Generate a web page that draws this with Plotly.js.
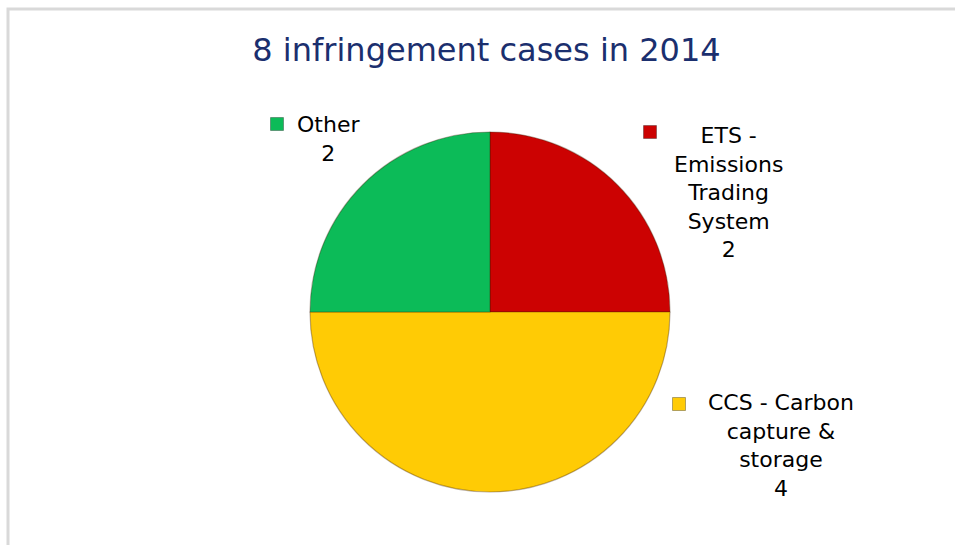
<!DOCTYPE html>
<html>
<head>
<meta charset="utf-8">
<script src="https://cdn.plot.ly/plotly-3.0.1.min.js"></script>
<style>
html,body{margin:0;padding:0;background:#fff;}
#chart{width:955px;height:545px;}
</style>
</head>
<body>
<div id="chart"></div>
<script>
// ---- data ----
const titleText = '8 infringement cases in 2014';
const categories = ['ETS - Emissions Trading System', 'CCS - Carbon capture & storage', 'Other'];
const labelLines = [['ETS -', 'Emissions', 'Trading', 'System'], ['CCS - Carbon', 'capture &', 'storage'], ['Other']];
const values = [2, 4, 2];
const colors = ['#cc0202', '#ffcb05', '#0cbb58'];

// ---- layout helpers (pixel positions -> paper coords) ----
const W = 955, H = 545;
const px = x => x / W;
const py = y => 1 - y / H;
const pieCenter = [490, 312], pieR = 180;
const labelPos = [[728, 192], [781, 445], [328, 139]];
const keyPos = [[650, 132], [679, 404], [277, 124]];
const keySize = 13;

const annotations = categories.map((c, i) => ({
  xref: 'paper', yref: 'paper',
  x: px(labelPos[i][0]), y: py(labelPos[i][1]),
  xanchor: 'center', yanchor: 'middle',
  text: labelLines[i].join('<br>') + '<br>' + values[i],
  showarrow: false, align: 'center',
  font: {family: 'DejaVu Sans', size: 22, color: '#000'}
}));

const shapes = [{
  type: 'rect', xref: 'paper', yref: 'paper',
  x0: px(8), x1: 1.02, y0: -0.02, y1: py(9),
  line: {color: '#d9d9d9', width: 3}, fillcolor: 'rgba(0,0,0,0)', layer: 'below'
}].concat(categories.map((c, i) => ({
  type: 'rect', xref: 'paper', yref: 'paper',
  x0: px(keyPos[i][0] - keySize / 2), x1: px(keyPos[i][0] + keySize / 2),
  y0: py(keyPos[i][1] + keySize / 2), y1: py(keyPos[i][1] - keySize / 2),
  fillcolor: colors[i], line: {color: 'rgba(0,0,0,0.3)', width: 1}
})));

const trace = {
  type: 'pie',
  labels: categories,
  values: values,
  sort: false,
  direction: 'clockwise',
  rotation: 0,
  textinfo: 'none',
  hoverinfo: 'label+value',
  marker: {colors: colors, line: {color: 'rgba(60,30,0,0.35)', width: 1.2}},
  domain: {
    x: [px(pieCenter[0] - pieR), px(pieCenter[0] + pieR)],
    y: [py(pieCenter[1] + pieR), py(pieCenter[1] - pieR)]
  },
  showlegend: false
};

const layout = {
  width: W, height: H,
  margin: {l: 0, r: 0, t: 0, b: 0},
  paper_bgcolor: '#fff',
  title: {
    text: titleText,
    x: px(486.5), xanchor: 'center', xref: 'container',
    y: py(50), yanchor: 'middle', yref: 'container',
    font: {family: 'DejaVu Sans', size: 32, color: '#1b2f6e'}
  },
  showlegend: false,
  annotations: annotations,
  shapes: shapes
};

Plotly.newPlot('chart', [trace], layout, {displayModeBar: false, staticPlot: true});
</script>
</body>
</html>
